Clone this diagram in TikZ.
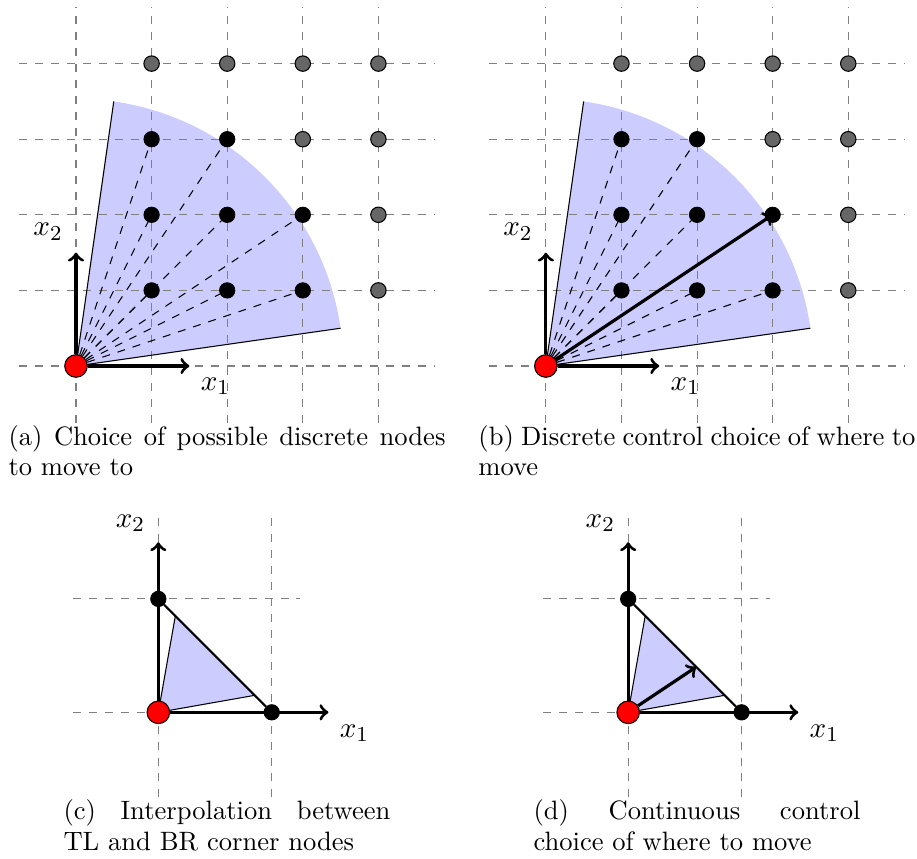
\documentclass[tikz,border=0pt]{standalone}
\tikzset{
  gridline/.style={gray, dashed, line width=0.4pt},
  ray/.style={black, dashed, line width=0.4pt},
  wedgeedge/.style={black, line width=0.4pt},
  bdot/.style={circle, fill=black, draw=black, line width=0.3pt, inner sep=0pt, minimum size=5.8pt},
  gdot/.style={circle, fill=black!60, draw=black, line width=0.4pt, inner sep=0pt, minimum size=5.8pt},
  rdot/.style={circle, fill=red, draw=black, line width=0.4pt, inner sep=0pt, minimum size=8.5pt},
  axis/.style={->, very thick},
  move/.style={->, very thick},
  hyp/.style={thick},
  lbl/.style={inner sep=0pt, font=\fontsize{11}{13}\selectfont},
  captext/.style={inner sep=0pt, anchor=base west},
}
\newcommand{\capbox}[2]{\parbox[t]{#1}{\fontsize{10}{11.3}\selectfont #2}}
\newcommand{\discretepanel}[1]{%
  \fill[blue!20] (0,0) -- (8.13:3.535) arc[start angle=8.13, end angle=81.87, radius=3.535] -- cycle;
  \foreach \v in {0,...,4} {
    \draw[gridline] (\v,-0.75) -- (\v,4.75);
    \draw[gridline] (-0.75,\v) -- (4.75,\v);
  }
  \draw[wedgeedge] (8.13:3.535) -- (0,0) -- (81.87:3.535);
  \node[rdot] (#1o) at (0,0) {};
  \coordinate (#1xend) at (1.5,0);
  \coordinate (#1yend) at (0,1.5);
  \foreach \i/\j in {4/1,4/2,3/3,4/3,1/4,2/4,3/4,4/4} {
    \node[gdot] (#1g\i\j) at (\i,\j) {};
  }
  \foreach \i/\j in {1/1,2/1,3/1,1/2,2/2,3/2,1/3,2/3} {
    \node[bdot] (#1d\i\j) at (\i,\j) {};
    \draw[ray] (#1o) -- (#1d\i\j);
  }
  \draw[axis] (#1o) -- (#1xend);
  \draw[axis] (#1o) -- (#1yend);
  \node[lbl, xshift=9.8pt, yshift=-7.6pt] (#1lx) at (#1xend) {$x_1$};
  \node[lbl, xshift=-10.5pt, yshift=7.8pt] (#1ly) at (#1yend) {$x_2$};
}
\newcommand{\trianglepanel}[1]{%
  \foreach \v in {0,1} {
    \draw[gridline] (\v,-0.75) -- (\v,1.75);
    \draw[gridline] (-0.75,\v) -- (1.25,\v);
  }
  \fill[blue!20] (0,0) -- (0.15,0.85) -- (0.85,0.15) -- cycle;
  \draw[wedgeedge] (0.15,0.85) -- (0,0) -- (0.85,0.15);
  \node[rdot] (#1o) at (0,0) {};
  \node[bdot] (#1tl) at (0,1) {};
  \node[bdot] (#1br) at (1,0) {};
  \coordinate (#1xend) at (1.5,0);
  \coordinate (#1yend) at (0,1.5);
  \draw[hyp] (#1tl) -- (#1br);
  \draw[axis] (#1o) -- (#1xend);
  \draw[axis] (#1o) -- (#1yend);
  \node[lbl, xshift=9.8pt, yshift=-7.8pt] (#1lx) at (#1xend) {$x_1$};
  \node[lbl, xshift=-10.5pt, yshift=7.2pt] (#1ly) at (#1yend) {$x_2$};
}
\begin{document}
\begin{tikzpicture}[x=1cm, y=1cm]
  \useasboundingbox (-1.0053,-6.5079) rectangle (11.1243,4.8413);
  % panel (a)
  \begin{scope}
    \discretepanel{a}
  \end{scope}
  % panel (b)
  \begin{scope}[shift={(6.215,0)}]
    \discretepanel{b}
    \draw[move] (bo) -- (bd32.center);
  \end{scope}
  % panel (c)
  \begin{scope}[shift={(1.089,-4.581)}, scale=1.5]
    \trianglepanel{c}
  \end{scope}
  % panel (d)
  \begin{scope}[shift={(7.304,-4.581)}, scale=1.5]
    \trianglepanel{d}
    \coordinate (dtip) at (0.6,0.4);
    \draw[move] (do) -- (dtip);
  \end{scope}
  % captions
  \node[captext] (capa) at (-0.8995,-1.045) {\capbox{5.780cm}{(a) Choice of possible discrete nodes to move to}};
  \node[captext] (capb) at (5.3165,-1.045) {\capbox{5.780cm}{(b) Discrete control choice of where to move}};
  \node[captext] (capc) at (-0.172,-6.005) {\capbox{4.325cm}{(c) Interpolation between TL and BR corner nodes}};
  \node[captext] (capd) at (6.045,-6.005) {\capbox{4.325cm}{(d) Continuous control choice of where to move}};
\end{tikzpicture}
\end{document}
